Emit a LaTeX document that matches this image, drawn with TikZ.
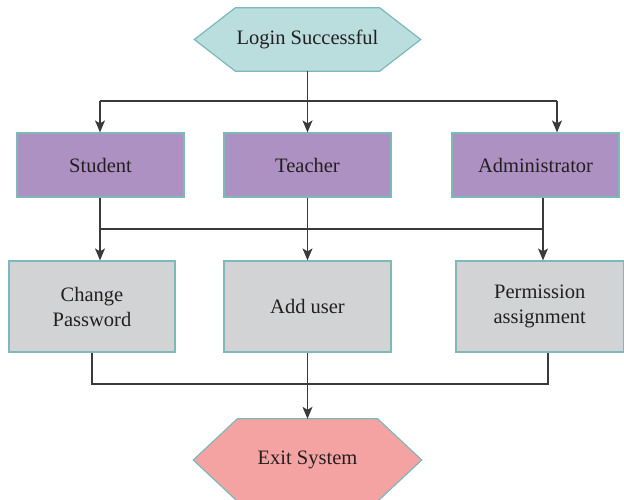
\documentclass[tikz,border=0pt]{standalone}
\usepackage{fontspec}
\setmainfont{Liberation Serif}
\usetikzlibrary{arrows.meta,backgrounds}
\definecolor{tealfill}{HTML}{BADDDD}
\definecolor{tealline}{HTML}{7DB8BB}
\definecolor{purplefill}{HTML}{AD91C3}
\definecolor{grayfill}{HTML}{D1D3D4}
\definecolor{pinkfill}{HTML}{F5A3A2}
\definecolor{linecol}{HTML}{3A3A3A}
\definecolor{textcol}{HTML}{231F20}
\begin{document}
\begin{tikzpicture}[x=1bp,y=-1bp,
  every node/.style={font=\fontsize{20.5bp}{25bp}\selectfont, text=textcol, align=center},
  hexbox/.style={inner sep=0pt},
  rolebox/.style={draw=tealline, line width=1.2bp, fill=purplefill, minimum width=167bp, minimum height=64bp, inner sep=0pt},
  taskbox/.style={draw=tealline, line width=1.2bp, fill=grayfill, minimum height=91bp, inner sep=0pt},
  conn/.style={draw=linecol, line width=1.3bp},
  arr/.style={conn, -{Stealth[length=12bp,width=10bp,inset=3bp]}},
  hexborder/.style={draw=tealline, line width=1.2bp}
]
\useasboundingbox (0,0) rectangle (624,500);

% nodes
\node[hexbox, minimum width=144bp, minimum height=63bp] (login) at (307.5,39.5) {Login Successful};
\node[rolebox] (student) at (100.5,165) {Student};
\node[rolebox] (teacher) at (307.5,165) {Teacher};
\node[rolebox] (admin) at (535.5,165) {Administrator};
\node[taskbox, minimum width=166bp] (chpw) at (92,306.5) {Change\\Password};
\node[taskbox, minimum width=167bp] (adduser) at (307.5,306.5) {Add user};
\node[taskbox, minimum width=167.5bp] (perm) at (539.75,306.5) {Permission\\assignment};
\node[hexbox, minimum width=140bp, minimum height=82bp] (exit) at (307.5,460) {Exit System};

\begin{pgfonlayer}{background}
\path[hexborder, fill=tealfill] ([xshift=-41bp]login.west) -- (login.north west) -- (login.north east)
   -- ([xshift=41bp]login.east) -- (login.south east) -- (login.south west) -- cycle;
\path[hexborder, fill=pinkfill] ([xshift=-44bp]exit.west) -- (exit.north west) -- (exit.north east)
   -- ([xshift=44bp]exit.east) -- (exit.south east) -- (exit.south west) -- cycle;
\end{pgfonlayer}

% bus coordinates
\coordinate (b1L) at (100,101);
\coordinate (b1R) at (557,101);
\coordinate (b2L) at (100,229);
\coordinate (b2R) at (543,229);
\coordinate (b3L) at (92,384);
\coordinate (b3R) at (548,384);

% top bus
\draw[arr] (login.south) -- (teacher.north);
\draw[conn] (b1L) -- (b1R);
\draw[arr] (b1L) -- (b1L |- student.north);
\draw[arr] (b1R) -- (b1R |- admin.north);

% middle bus
\draw[conn] (b2L |- student.south) -- (b2L) -- (b2R) -- (b2R |- admin.south);
\draw[arr] (b2L) -- (b2L |- chpw.north);
\draw[arr] (teacher.south) -- (adduser.north);
\draw[arr] (b2R) -- (b2R |- perm.north);

% bottom bus
\draw[conn] (chpw.south) -- (b3L) -- (b3R) -- (b3R |- perm.south);
\draw[arr] (adduser.south) -- (exit.north);
\end{tikzpicture}
\end{document}
